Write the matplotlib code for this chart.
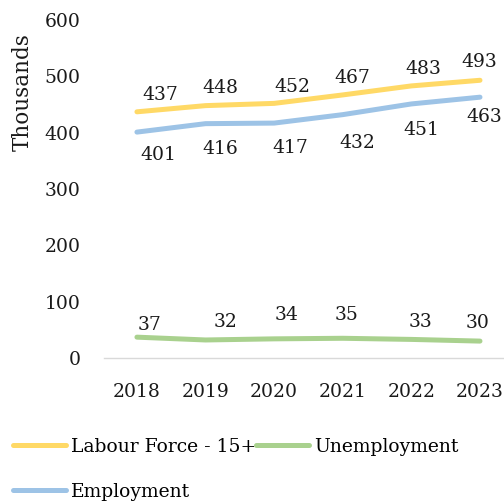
import numpy as np
import matplotlib.pyplot as plt
from matplotlib.lines import Line2D

years = ['2018', '2019', '2020', '2021', '2022', '2023']
labour_force = [437, 448, 452, 467, 483, 493]
employment = [401, 416, 417, 432, 451, 463]
unemployment = [37, 32, 34, 35, 33, 30]

# label nudges in pixels (dx, dy) from each point
lf_off = [(23, 17), (15, 18), (18, 16), (10, 17), (12, 17), (-1, 18)]
emp_off = [(21, -23), (15, -25), (16, -25), (15, -28), (10, -26), (4, -20)]
unemp_off = [(13, 12), (20, 18), (12, 24), (4, 23), (9, 17), (-2, 18)]

c_lf = '#FFD966'
c_emp = '#9DC3E6'
c_unemp = '#A9D18E'

plt.rcParams['font.family'] = ['DejaVu Serif']
plt.rcParams['font.size'] = 13.5

fig = plt.figure(figsize=(5.04, 5.03), dpi=100)
W, H = 504, 503
ax = fig.add_axes([104 / W, (H - 358) / H, 1 - 104 / W, (358 - 20) / H])

x = np.arange(len(years))
lw = 3.6
ax.plot(x, labour_force, color=c_lf, lw=lw, solid_capstyle='round')
ax.plot(x, employment, color=c_emp, lw=lw, solid_capstyle='round')
ax.plot(x, unemployment, color=c_unemp, lw=lw, solid_capstyle='round')

def put_labels(vals, offs):
    for i, v in enumerate(vals):
        ax.annotate(str(v), (x[i], v), xytext=offs[i], textcoords='offset pixels',
                    ha='center', va='center', color='#1a1a1a')

put_labels(labour_force, lf_off)
put_labels(employment, emp_off)
put_labels(unemployment, unemp_off)

ax.set_xlim(-0.48, 5.35)
ax.set_ylim(0, 600)
ax.set_yticks(range(0, 601, 100))
ax.set_xticks(x)
ax.set_xticklabels(years)
ax.tick_params(axis='both', length=0, colors='#1a1a1a')
ax.tick_params(axis='y', pad=17)
ax.tick_params(axis='x', pad=18)
for s in ['top', 'right', 'left']:
    ax.spines[s].set_visible(False)
ax.spines['bottom'].set_color('#D9D9D9')
ax.spines['bottom'].set_linewidth(1)

fig.text(23 / W, 1 - 92 / H, 'Thousands', rotation=90, ha='center', va='center',
         color='#1a1a1a', fontsize=15.5)

handles = [Line2D([], [], color=c_lf, lw=lw, solid_capstyle='round'),
           Line2D([], [], color=c_emp, lw=lw, solid_capstyle='round'),
           Line2D([], [], color=c_unemp, lw=lw, solid_capstyle='round')]
names = ['Labour Force - 15+', 'Employment', 'Unemployment']
fig.legend(handles, names, ncol=2, loc='upper left',
           bbox_to_anchor=(13 / W, 1 - 438 / H), frameon=False,
           borderpad=0, borderaxespad=0, handlelength=2.8, handletextpad=0.28,
           columnspacing=0.0, labelspacing=1.44)

fig.savefig('out.png', dpi=100)
